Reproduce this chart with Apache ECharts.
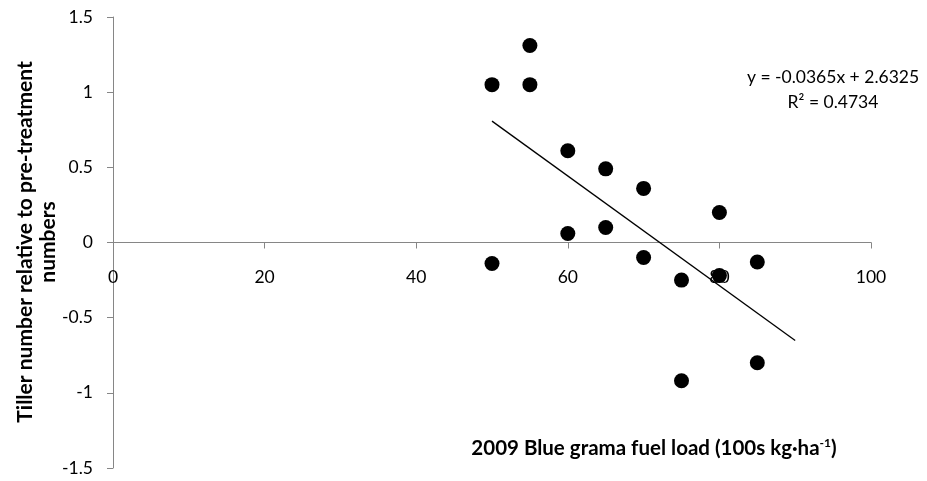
<!DOCTYPE html>
<html>
<head>
<meta charset="utf-8">
<script src="https://cdn.jsdelivr.net/npm/echarts@6/dist/echarts.min.js"></script>
<style>
html,body{margin:0;padding:0;background:#fff;}
#chart{width:927px;height:481px;}
</style>
</head>
<body>
<div id="chart"></div>
<script>
// Data
var fuelLoad = [50, 50, 55, 55, 60, 60, 65, 65, 70, 70, 75, 75, 80, 80, 85, 85];
var tillerChange = [1.05, -0.14, 1.31, 1.05, 0.61, 0.06, 0.49, 0.10, 0.36, -0.10, -0.25, -0.92, 0.20, -0.22, -0.13, -0.80];
var trendSlope = -0.0365;
var trendIntercept = 2.6325;
var trendRange = [50, 90];
var trendLabel = ['y = -0.0365x + 2.6325', 'R² = 0.4734'];
var xTitle = '2009 Blue grama fuel load (100s kg·ha';
var xTitleSup = '-1';
var yTitle = ['Tiller number relative to pre-treatment', 'numbers'];

var FONT = 'Lato';
var points = fuelLoad.map(function (x, i) { return [x, tillerChange[i]]; });
var trendPts = trendRange.map(function (x) { return [x, trendSlope * x + trendIntercept]; });

var chart = echarts.init(document.getElementById('chart'));
chart.setOption({
  animation: false,
  backgroundColor: '#ffffff',
  grid: { left: 113, right: 56, top: 17, bottom: 13, containLabel: false, outerBoundsMode: 'none' },
  xAxis: {
    type: 'value', min: 0, max: 100, interval: 20,
    axisLine: { show: true, onZero: true, lineStyle: { color: '#868686', width: 1 } },
    axisTick: { show: true, length: 6, lineStyle: { color: '#868686' } },
    axisLabel: { color: '#000', fontFamily: FONT, fontSize: 17.5, margin: -200 },
    splitLine: { show: false }
  },
  yAxis: {
    type: 'value', min: -1.5, max: 1.5, interval: 0.5,
    axisLine: { show: true, onZero: false, lineStyle: { color: '#868686', width: 1 } },
    axisTick: { show: true, length: 6, lineStyle: { color: '#868686' } },
    axisLabel: { color: '#000', fontFamily: FONT, fontSize: 17.5, margin: 20 },
    splitLine: { show: false }
  },
  graphic: [
    {
      type: 'text',
      x: 654, y: 448,
      style: {
        text: '{a|' + xTitle + '}{s|' + xTitleSup + '}{a|)}',
        rich: {
          a: { fontFamily: FONT, fontSize: 20.5, fontWeight: 'bold', fill: '#000' },
          s: { fontFamily: FONT, fontSize: 12, fontWeight: 'bold', fill: '#000', verticalAlign: 'top', padding: [0, 0, 9, 0] }
        },
        align: 'center', verticalAlign: 'middle'
      }
    },
    {
      type: 'text',
      x: 37, y: 242,
      rotation: Math.PI / 2,
      style: {
        text: yTitle.join('\n'),
        fontFamily: FONT, fontSize: 21, fontWeight: 'bold', fill: '#000', lineHeight: 23,
        align: 'center', verticalAlign: 'middle'
      }
    },
    {
      type: 'text',
      x: 833, y: 90,
      style: {
        text: trendLabel.join('\n'),
        fontFamily: FONT, fontSize: 17.5, fill: '#000', lineHeight: 25.6,
        align: 'center', verticalAlign: 'middle'
      }
    }
  ],
  series: [
    {
      type: 'scatter',
      data: points,
      symbol: 'circle',
      symbolSize: 15,
      itemStyle: { color: '#000', opacity: 1 },
      z: 3
    },
    {
      type: 'line',
      data: trendPts,
      showSymbol: false,
      symbol: 'none',
      lineStyle: { color: '#000', width: 1.3 },
      z: 4
    }
  ]
});
</script>
</body>
</html>
